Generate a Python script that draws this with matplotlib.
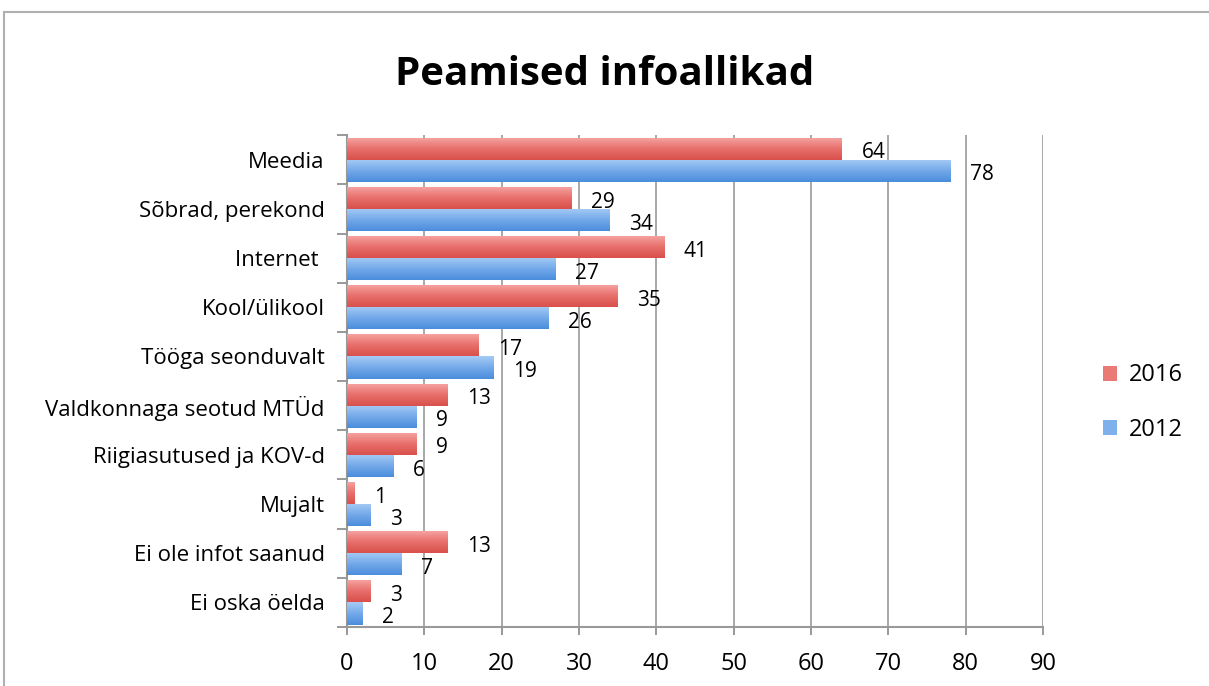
import numpy as np
import matplotlib
matplotlib.use("Agg")
import matplotlib.pyplot as plt
from matplotlib.patches import Rectangle, Patch
from matplotlib.colors import LinearSegmentedColormap

plt.rcParams['font.family'] = ['Open Sans', 'DejaVu Sans']

# data
categories = ["Meedia", "Sõbrad, perekond", "Internet ", "Kool/ülikool",
              "Tööga seonduvalt", "Valdkonnaga seotud MTÜd",
              "Riigiasutused ja KOV-d", "Mujalt", "Ei ole infot saanud",
              "Ei oska öelda"]
values_2016 = [64, 29, 41, 35, 17, 13, 9, 1, 13, 3]
values_2012 = [78, 34, 27, 26, 19, 9, 6, 3, 7, 2]
series_labels = ["2016", "2012"]
x_ticks = [0, 10, 20, 30, 40, 50, 60, 70, 80, 90]

red_grad = LinearSegmentedColormap.from_list("r", ["#f6a6a4", "#e8706c", "#d9504b"])
blue_grad = LinearSegmentedColormap.from_list("b", ["#a6cbf5", "#74a9ea", "#4b8ddb"])

fig = plt.figure(figsize=(12.09, 6.86), dpi=100)
ax = fig.add_axes([0.287, 0.086, 0.5757, 0.717])

# outer chart frame
fig.patches.append(Rectangle((4 / 1209, -0.1), 1.2, 1.1 - 12 / 686, transform=fig.transFigure,
                             fill=False, edgecolor="#b0b0b0", linewidth=1.5))

y = np.arange(len(categories))
h = 0.45
bars_r = ax.barh(y - h / 2, values_2016, height=h, color="#e8706c", zorder=3)
bars_b = ax.barh(y + h / 2, values_2012, height=h, color="#74a9ea", zorder=3)

# vertical gradient inside each bar, like the spreadsheet style
grad = np.linspace(0, 1, 64).reshape(-1, 1)
for bars, cmap in [(bars_r, red_grad), (bars_b, blue_grad)]:
    for b in bars:
        x0, y0 = b.get_x(), b.get_y()
        w, hh = b.get_width(), b.get_height()
        im = ax.imshow(grad, cmap=cmap, aspect="auto", zorder=4,
                       extent=(x0, x0 + w, y0 + hh, y0), origin="upper")
        im.set_clip_path(b)

for bars, vals in [(bars_r, values_2016), (bars_b, values_2012)]:
    for b, v in zip(bars, vals):
        ax.annotate(str(v), (b.get_width(), b.get_y() + b.get_height() / 2),
                    xytext=(14, -3), textcoords="offset points",
                    ha="left", va="center", fontsize=15, color="black", zorder=5)

ax.set_xlim(0, 90)
ax.set_ylim(len(categories) - 0.5, -0.5)
ax.set_xticks(x_ticks)
ax.set_xticklabels([str(t) for t in x_ticks], fontsize=17)
ax.set_yticks(np.arange(len(categories) + 1) - 0.5)
ax.set_yticklabels([])
ax.set_yticks(y, minor=True)
ax.set_yticklabels(categories, minor=True, fontsize=16)
ax.tick_params(axis="y", which="minor", length=0, pad=16)
ax.tick_params(axis="y", which="major", length=7, color="#888888", width=1.2)
ax.tick_params(axis="x", length=6, color="#888888", width=1.2, pad=12)

ax.grid(axis="x", color="#999999", linewidth=1.2, zorder=0)
for s in ["top", "right"]:
    ax.spines[s].set_visible(False)
for s in ["left", "bottom"]:
    ax.spines[s].set_color("#999999")
    ax.spines[s].set_linewidth(1.5)

handles = [Patch(facecolor="#ea7a76", edgecolor="none"),
           Patch(facecolor="#7eb0ec", edgecolor="none")]
fig.legend(handles, series_labels, loc="center left", bbox_to_anchor=(0.895, 0.413),
           frameon=False, fontsize=17, labelspacing=1.3, handlelength=0.6,
           handleheight=0.6, handletextpad=0.5)

fig.text(0.5, 0.892, "Peamised infoallikad", ha="center", va="center",
         fontsize=29, fontweight="bold")

fig.savefig("out.png", dpi=100)
